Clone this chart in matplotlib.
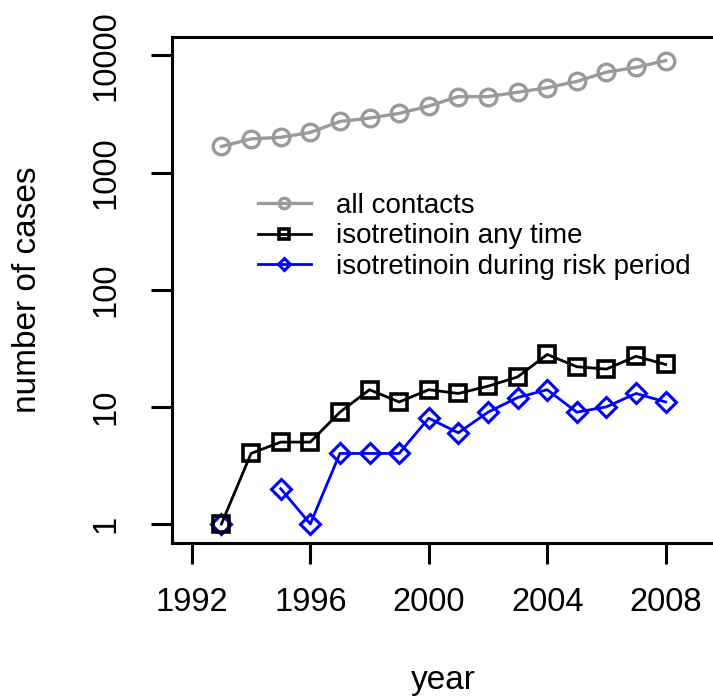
import numpy as np
import matplotlib
matplotlib.use("Agg")
import matplotlib.pyplot as plt

plt.rcParams['font.family'] = ['Liberation Sans', 'DejaVu Sans']

# counts per year (0 = no cases, left as a gap on the log axis)
years = np.arange(1993, 2009)
all_contacts = [1670, 1940, 2000, 2200, 2730, 2920, 3200, 3700,
                4450, 4450, 4850, 5300, 6000, 7200, 7900, 9050]
iso_any = [1, 4, 5, 5, 9, 14, 11, 14, 13, 15, 18, 28, 22, 21, 27, 23]
iso_risk = [1, 0, 2, 1, 4, 4, 4, 8, 6, 9, 12, 14, 9, 10, 13, 11]

labels = ["all contacts", "isotretinoin any time", "isotretinoin during risk period"]
yticks = [1, 10, 100, 1000, 10000]
xticks = [1992, 1996, 2000, 2004, 2008]

fig = plt.figure(figsize=(7.13, 7.0), dpi=100)
# right edge of the box sits just past the figure, like the original crop
ax = fig.add_axes([171.7/713, 1 - 542.7/700, (715.4-171.7)/713, (542.7-36.7)/700])

risk = np.array(iso_risk, dtype=float)
risk[risk == 0] = np.nan

l1, = ax.plot(years, all_contacts, color="#9a9a9a", lw=2.4, marker="o", ms=12,
              mfc="none", mec="#9a9a9a", mew=2.4)
l3, = ax.plot(years, risk, color="#0000ff", lw=2.0, marker="D", ms=10,
              mfc="none", mec="#0000ff", mew=2.2)
l2, = ax.plot(years, iso_any, color="black", lw=2.0, marker="s", ms=11,
              mfc="none", mec="black", mew=2.6)

ax.set_yscale("log")
ax.set_xlim(1991.32, 2009.68)
ax.set_ylim(10**-0.16, 10**4.16)
ax.set_xticks(xticks)
ax.set_yticks(yticks)
ax.set_yticklabels([str(v) for v in yticks], rotation=90, va="center")
ax.yaxis.set_minor_locator(matplotlib.ticker.NullLocator())
ax.tick_params(axis="both", which="major", direction="out", length=15, width=2.2,
               labelsize=23.5)
ax.tick_params(axis="x", pad=17)
ax.tick_params(axis="y", pad=21)
for s in ax.spines.values():
    s.set_linewidth(2.2)

ax.set_xlabel("year", fontsize=24, labelpad=34)
ax.set_ylabel("number of cases", fontsize=24, labelpad=34)

ax.legend([l1, l2, l3], labels, loc="upper left", frameon=False, fontsize=20,
          markerscale=0.62, handlelength=1.9, handletextpad=0.9, labelspacing=0.16,
          borderpad=0, borderaxespad=0,
          bbox_to_anchor=(258/713, 1 - 193/700), bbox_transform=fig.transFigure)

fig.savefig("out.png", dpi=100)
